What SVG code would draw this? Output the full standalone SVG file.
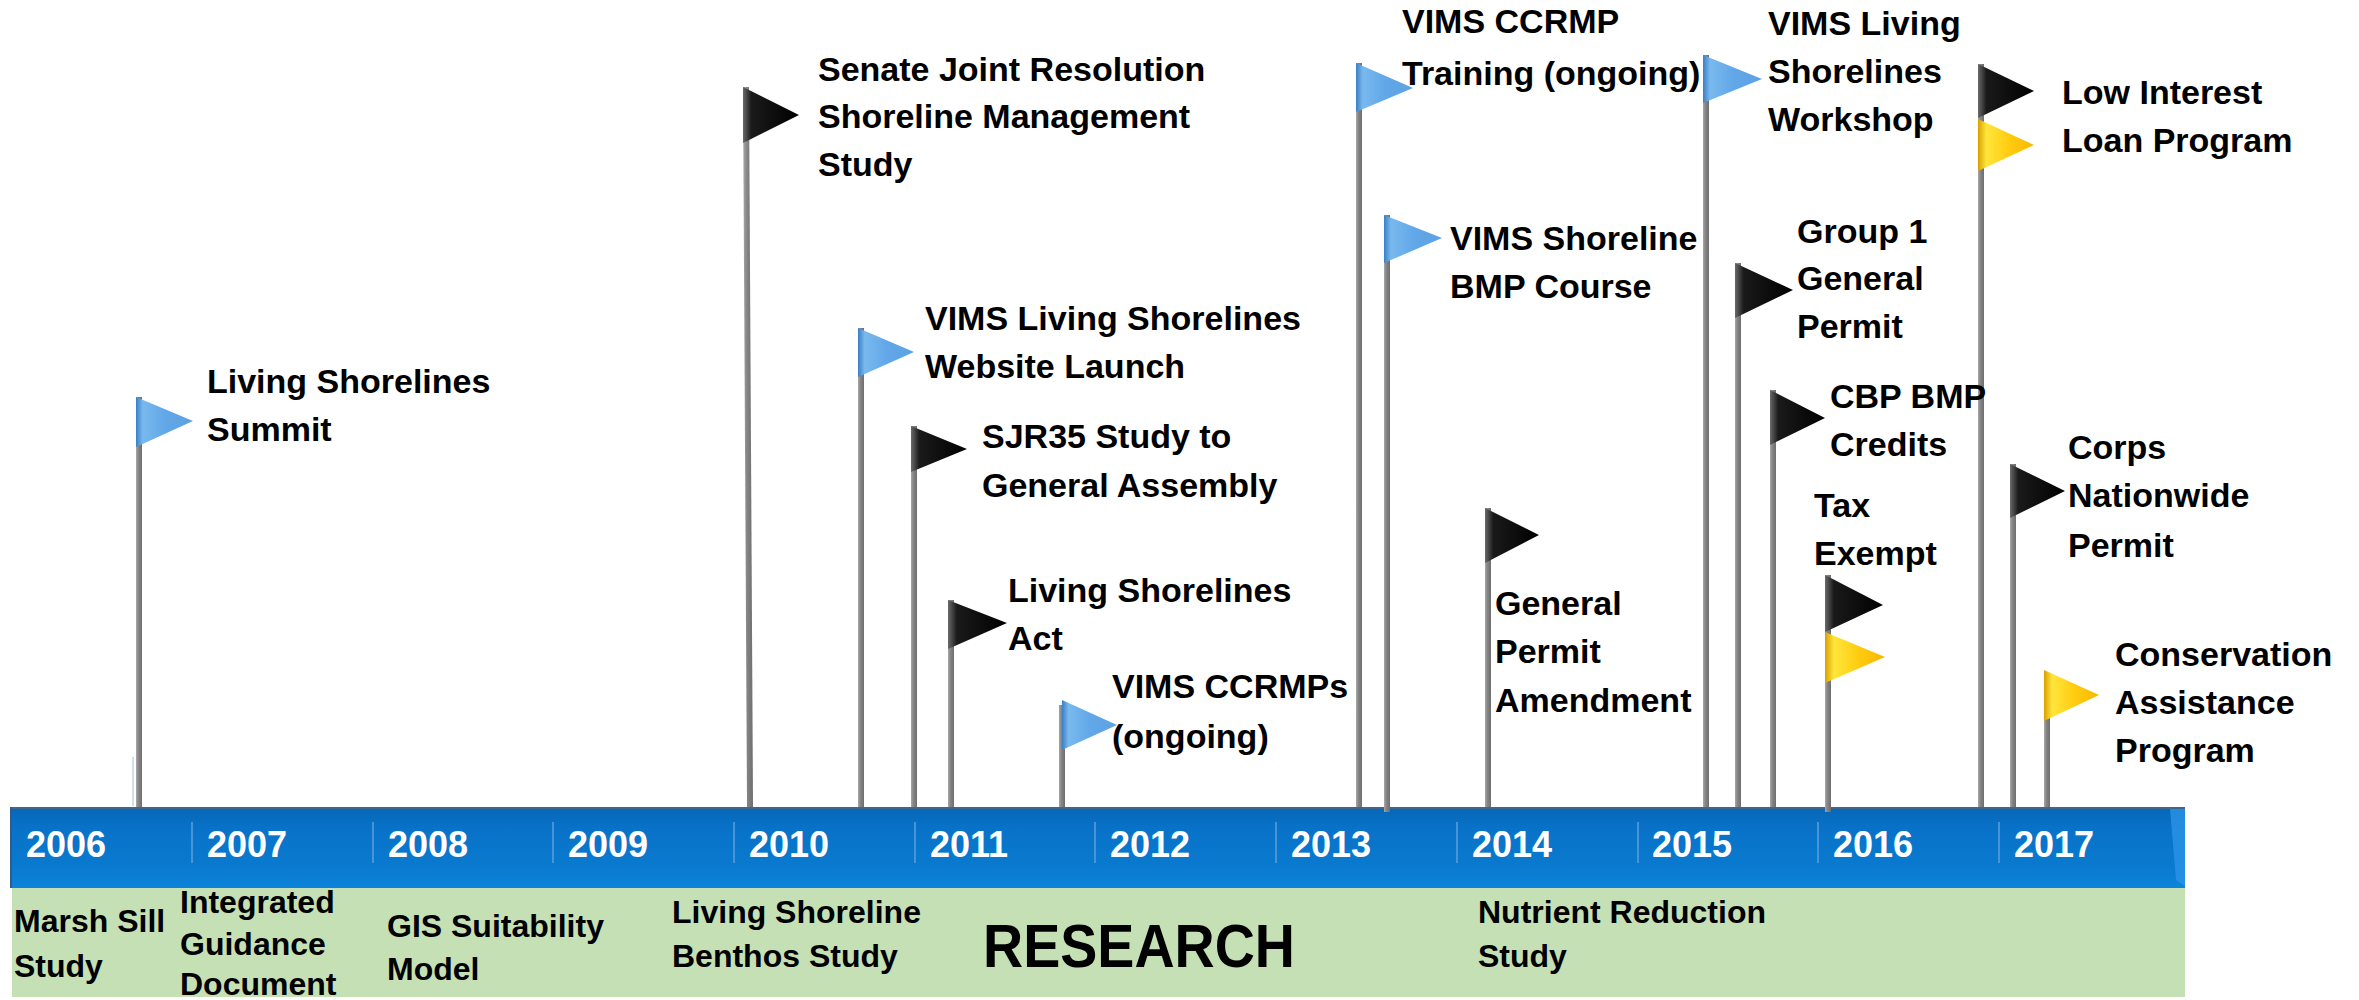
<svg xmlns="http://www.w3.org/2000/svg" width="2359" height="1000" viewBox="0 0 2359 1000">
<defs>
<style>
.t{font-family:"Liberation Sans",Arial,sans-serif;font-weight:bold;font-size:34px;fill:#000}
.g{font-family:"Liberation Sans",Arial,sans-serif;font-weight:bold;font-size:32px;fill:#000}
.yr{font-family:"Liberation Sans",Arial,sans-serif;font-weight:bold;font-size:36px;fill:#fff}
.sep{stroke:#5C9FDC;stroke-width:1.5}
.pole{fill:url(#poleG)}
.fb{fill:url(#blueG)}
.fk{fill:url(#blackG)}
.fy{fill:url(#yellowG)}
</style>
<linearGradient id="poleG" x1="0" y1="0" x2="1" y2="0">
<stop offset="0" stop-color="#A8A8A8"/><stop offset="0.4" stop-color="#858585"/><stop offset="1" stop-color="#6E6E6E"/>
</linearGradient>
<linearGradient id="blueG" x1="0" y1="0" x2="1" y2="0">
<stop offset="0" stop-color="#3A7FC6"/><stop offset="0.12" stop-color="#79B9EE"/><stop offset="0.5" stop-color="#62A8E8"/><stop offset="1" stop-color="#5CA2E4"/>
</linearGradient>
<linearGradient id="blackG" x1="0" y1="0" x2="1" y2="0">
<stop offset="0" stop-color="#6A6A6A"/><stop offset="0.15" stop-color="#1A1A1A"/><stop offset="1" stop-color="#000"/>
</linearGradient>
<linearGradient id="yellowG" x1="0" y1="0" x2="1" y2="0">
<stop offset="0" stop-color="#D9A000"/><stop offset="0.15" stop-color="#FFE63C"/><stop offset="0.55" stop-color="#FFCC10"/><stop offset="1" stop-color="#F5B800"/>
</linearGradient>
<linearGradient id="barG" x1="0" y1="0" x2="0" y2="1">
<stop offset="0" stop-color="#0766B6"/><stop offset="0.25" stop-color="#0872C8"/><stop offset="0.75" stop-color="#097ACF"/><stop offset="1" stop-color="#0C84DA"/>
</linearGradient>
</defs>
<rect width="2359" height="1000" fill="#fff"/>

<g id="timeline">
<rect x="12" y="888" width="2173" height="109" fill="#C5E0B4"/>
<rect x="10" y="807" width="2175" height="81" fill="url(#barG)"/>
<line x1="10" y1="808" x2="2185" y2="808" stroke="#3E6690" stroke-width="2"/>
<line x1="11" y1="807" x2="11" y2="888" stroke="#2F5C8C" stroke-width="2"/>
<polygon points="2170,809 2185,809 2185,886 2176,880" fill="#2B93E6" opacity="0.8"/>
<line class="sep" x1="192" y1="822" x2="192" y2="863"/>
<line class="sep" x1="373" y1="822" x2="373" y2="863"/>
<line class="sep" x1="553" y1="822" x2="553" y2="863"/>
<line class="sep" x1="734" y1="822" x2="734" y2="863"/>
<line class="sep" x1="915" y1="822" x2="915" y2="863"/>
<line class="sep" x1="1095" y1="822" x2="1095" y2="863"/>
<line class="sep" x1="1276" y1="822" x2="1276" y2="863"/>
<line class="sep" x1="1457" y1="822" x2="1457" y2="863"/>
<line class="sep" x1="1638" y1="822" x2="1638" y2="863"/>
<line class="sep" x1="1818" y1="822" x2="1818" y2="863"/>
<line class="sep" x1="1999" y1="822" x2="1999" y2="863"/>
<text class="yr" x="26" y="857">2006</text>
<text class="yr" x="207" y="857">2007</text>
<text class="yr" x="388" y="857">2008</text>
<text class="yr" x="568" y="857">2009</text>
<text class="yr" x="749" y="857">2010</text>
<text class="yr" x="930" y="857">2011</text>
<text class="yr" x="1110" y="857">2012</text>
<text class="yr" x="1291" y="857">2013</text>
<text class="yr" x="1472" y="857">2014</text>
<text class="yr" x="1652" y="857">2015</text>
<text class="yr" x="1833" y="857">2016</text>
<text class="yr" x="2014" y="857">2017</text>
</g>

<g id="research">
<text class="g" x="14" y="932">Marsh Sill</text>
<text class="g" x="14" y="977">Study</text>
<text class="g" x="180" y="913">Integrated</text>
<text class="g" x="180" y="955">Guidance</text>
<text class="g" x="180" y="995">Document</text>
<text class="g" x="387" y="937">GIS Suitability</text>
<text class="g" x="387" y="980">Model</text>
<text class="g" x="672" y="923">Living Shoreline</text>
<text class="g" x="672" y="967">Benthos Study</text>
<text x="983" y="967" font-family="Liberation Sans, Arial, sans-serif" font-weight="bold" font-size="62" textLength="312" lengthAdjust="spacingAndGlyphs" fill="#000">RESEARCH</text>
<text class="g" x="1478" y="923">Nutrient Reduction</text>
<text class="g" x="1478" y="967">Study</text>
</g>

<g id="connectors">
<line x1="133" y1="757" x2="133" y2="806" stroke="#BDD7EE" stroke-width="1.5"/>
<rect class="pole" x="136" y="397" width="6" height="410"/>
<polygon class="pole" points="743,87 749,87 753,807 747,807"/>
<rect class="pole" x="858" y="328" width="6" height="479"/>
<rect class="pole" x="911" y="426" width="6" height="381"/>
<rect class="pole" x="948" y="600" width="6" height="207"/>
<rect class="pole" x="1059" y="705" width="6" height="102"/>
<rect class="pole" x="1356" y="63" width="6" height="744"/>
<rect class="pole" x="1384" y="215" width="6" height="597"/>
<rect class="pole" x="1485" y="508" width="6" height="299"/>
<rect class="pole" x="1703" y="55" width="6" height="752"/>
<rect class="pole" x="1735" y="263" width="6" height="544"/>
<rect class="pole" x="1770" y="390" width="6" height="417"/>
<rect class="pole" x="1825" y="575" width="6" height="237"/>
<rect class="pole" x="1978" y="64" width="6" height="743"/>
<rect class="pole" x="2010" y="464" width="6" height="343"/>
<rect class="pole" x="2044" y="675" width="6" height="132"/>
</g>

<g id="n1">
<polygon class="fb" points="136,397 193,421 136,447"/>
<text class="t" x="207" y="393">Living Shorelines</text>
<text class="t" x="207" y="441">Summit</text>
</g>
<g id="n2">
<polygon class="fk" points="743,87 799,115 743,143"/>
<text class="t" x="818" y="81">Senate Joint Resolution</text>
<text class="t" x="818" y="128">Shoreline Management</text>
<text class="t" x="818" y="176">Study</text>
</g>
<g id="n3">
<polygon class="fb" points="858,328 914,352 858,377"/>
<text class="t" x="925" y="330">VIMS Living Shorelines</text>
<text class="t" x="925" y="378">Website Launch</text>
</g>
<g id="n4">
<polygon class="fk" points="911,426 967,449 911,472"/>
<text class="t" x="982" y="448">SJR35 Study to</text>
<text class="t" x="982" y="497">General Assembly</text>
</g>
<g id="n5">
<polygon class="fk" points="948,600 1007,623 948,649"/>
<text class="t" x="1008" y="602">Living Shorelines</text>
<text class="t" x="1008" y="650">Act</text>
</g>
<g id="n6">
<text class="t" x="1112" y="698">VIMS CCRMPs</text>
<text class="t" x="1112" y="748">(ongoing)</text>
<polygon class="fb" points="1062,700 1117,725 1062,750"/>
</g>
<g id="n7">
<text class="t" x="1402" y="33">VIMS CCRMP</text>
<text class="t" x="1402" y="85">Training (ongoing)</text>
<polygon class="fb" points="1356,63 1413,88 1356,112"/>
</g>
<g id="n8">
<polygon class="fb" points="1384,215 1442,238 1384,263"/>
<text class="t" x="1450" y="250">VIMS Shoreline</text>
<text class="t" x="1450" y="298">BMP Course</text>
</g>
<g id="n9">
<polygon class="fk" points="1485,508 1539,535 1485,563"/>
<text class="t" x="1495" y="615">General</text>
<text class="t" x="1495" y="663">Permit</text>
<text class="t" x="1495" y="712">Amendment</text>
</g>
<g id="n10">
<polygon class="fb" points="1703,55 1762,79 1703,103"/>
<text class="t" x="1768" y="35">VIMS Living</text>
<text class="t" x="1768" y="83">Shorelines</text>
<text class="t" x="1768" y="131">Workshop</text>
</g>
<g id="n11">
<polygon class="fk" points="1735,263 1793,290 1735,318"/>
<text class="t" x="1797" y="243">Group 1</text>
<text class="t" x="1797" y="290">General</text>
<text class="t" x="1797" y="338">Permit</text>
</g>
<g id="n12">
<polygon class="fk" points="1770,390 1825,418 1770,445"/>
<text class="t" x="1830" y="408">CBP BMP</text>
<text class="t" x="1830" y="456">Credits</text>
</g>
<g id="n13">
<polygon class="fk" points="1825,575 1883,605 1825,632"/>
<polygon class="fy" points="1825,632 1885,657 1825,683"/>
<text class="t" x="1814" y="517">Tax</text>
<text class="t" x="1814" y="565">Exempt</text>
</g>
<g id="n14">
<polygon class="fk" points="1978,64 2034,91 1978,118"/>
<polygon class="fy" points="1978,119 2034,145 1978,171"/>
<text class="t" x="2062" y="104">Low Interest</text>
<text class="t" x="2062" y="152">Loan Program</text>
</g>
<g id="n15">
<polygon class="fk" points="2010,464 2065,491 2010,518"/>
<text class="t" x="2068" y="459">Corps</text>
<text class="t" x="2068" y="507">Nationwide</text>
<text class="t" x="2068" y="557">Permit</text>
</g>
<g id="n16">
<polygon class="fy" points="2044,670 2099,695 2044,721"/>
<text class="t" x="2115" y="666">Conservation</text>
<text class="t" x="2115" y="714">Assistance</text>
<text class="t" x="2115" y="762">Program</text>
</g>
</svg>
